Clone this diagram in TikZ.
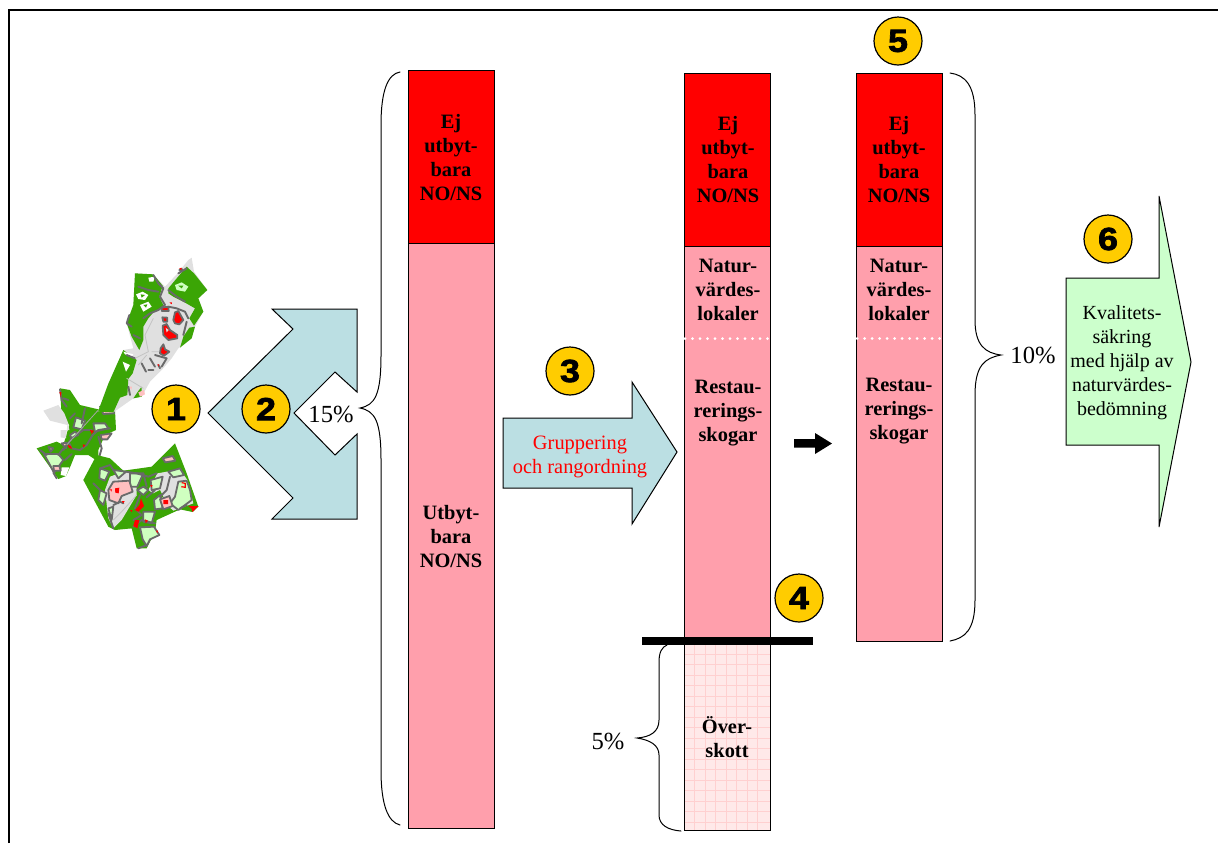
\documentclass[tikz,border=0pt]{standalone}
\usepackage{fontspec}
\setmainfont{Liberation Serif}
\newfontfamily\numfont[FakeBold=2.2,FakeStretch=1.12]{Liberation Sans Bold}
\definecolor{barred}{HTML}{FF0000}
\definecolor{barpink}{HTML}{FF9FAC}
\definecolor{arrowblue}{HTML}{BBDFE3}
\definecolor{arrowgreen}{HTML}{CCFFCC}
\definecolor{badge}{HTML}{FFCC00}
\definecolor{mapgreen}{HTML}{3BA505}
\definecolor{mapgrey}{HTML}{E0E0E0}
\definecolor{mapdark}{HTML}{6A6A6A}
\definecolor{mappink}{HTML}{FFC0C0}
\definecolor{maplight}{HTML}{CFFFC0}
\definecolor{excess}{HTML}{FFE9E9}
\definecolor{excessgrid}{HTML}{FFD0D0}
\tikzset{
  barbox/.style={draw=black,line width=0.5pt},
  barlabel/.style={font=\fontsize{10.2}{12}\selectfont\bfseries,align=center,inner sep=0pt},
  badgenode/.style={circle,draw=black,line width=0.6pt,fill=badge,minimum size=24pt,inner sep=0pt,font=\fontsize{16}{16}\selectfont\numfont},
  bracket/.style={draw=black,line width=0.5pt,line cap=round},
  percent/.style={font=\fontsize{12.3}{14}\selectfont,inner sep=0pt},
  blockarrow/.style={draw=black,line width=0.5pt},
  mapline/.style={draw=mapdark,line width=0.95pt,line join=round,line cap=round,fill=none},
  patchd/.style={draw=mapdark,line width=0.9pt,line join=round},
  dotsep/.style={white,line width=1.5pt,line cap=round,dash pattern=on 0pt off 3.75pt},
  cropmap/.style={x=0.16667pt,y=-0.16667pt},
}
\begin{document}
\begin{tikzpicture}[x=0.5pt,y=-0.5pt]
\useasboundingbox (0,0) rectangle (1218,843);
% frame
\draw[line width=1pt] (9,843) -- (9,9.5) -- (1218,9.5);

% map, middle part
\begin{scope}[shift={(30,380)},cropmap]
 \fill[mapgreen] (90,25) -- (120,30) -- (150,75) -- (205,88) -- (255,90) -- (258,150) -- (225,165) -- (205,210) -- (205,245) -- (175,225) -- (135,225) -- (120,262) -- (108,288) -- (85,297) -- (20,205) -- (80,185) -- (100,195) -- (118,135) -- (95,110) -- cycle;
 \fill[mapgrey] (40,92) -- (85,75) -- (103,100) -- (115,130) -- (118,150) -- (92,150) -- (92,172) -- (108,175) -- (112,135) -- (60,122) -- cycle;
 \fill[white] (95,262) -- (118,262) -- (108,288) -- (92,285) -- cycle;
 \filldraw[patchd,fill=maplight] (138,112) -- (165,122) -- (155,148) -- (130,142) -- cycle;
 \filldraw[patchd,fill=maplight] (190,130) -- (225,130) -- (235,145) -- (195,155) -- cycle;
 \filldraw[patchd,fill=maplight] (42,222) -- (85,222) -- (100,240) -- (72,278) -- (60,255) -- cycle;
 \filldraw[patchd,fill=maplight] (120,165) -- (135,155) -- (145,165) -- (125,175) -- cycle;
 \filldraw[patchd,fill=mappink] (210,80) -- (245,78) -- (252,100) -- (220,102) -- cycle;
 \filldraw[patchd,fill=mappink] (212,165) -- (245,160) -- (232,178) -- (215,178) -- cycle;
 \filldraw[patchd,fill=mappink] (70,258) -- (88,258) -- (92,272) -- (72,272) -- cycle;
 \filldraw[patchd,fill=mappink] (55,200) -- (70,205) -- (62,215) -- cycle;
 \filldraw[patchd,fill=mappink] (95,190) -- (110,188) -- (108,205) -- cycle;
 \draw[mapline] (118,190) -- (125,205) -- (150,210) -- (170,195) -- (188,165) -- (205,150) -- (240,145);
 \draw[mapline] (100,210) -- (125,175) -- (160,150) -- (185,150);
 \draw[mapline] (90,28) -- (95,60) -- (110,80) (100,55) -- (115,60) (205,170) -- (215,205) -- (205,240) (165,85) -- (155,130) (30,210) -- (50,225) (100,205) -- (85,225) (120,115) -- (135,100) (105,240) -- (125,222) (70,278) -- (80,295);
 \draw[draw=mapdark!60,line width=0.4pt] (110,195) -- (205,90);
 \fill[barred] (88,36) -- (94,36) -- (93,52) -- cycle (113,195) -- (123,198) -- (126,206) -- (117,204) -- cycle (158,193) -- (166,195) -- (160,202) -- cycle (180,150) -- (192,152) -- (185,162) -- cycle (235,85) -- (241,85) -- (240,92) -- cycle (246,285) -- (252,285) -- (250,292) -- cycle;
\end{scope}

% map, lower part
\begin{scope}[shift={(80,440)},cropmap]
 \fill[mapgreen] (285,10) -- (320,100) -- (355,200) -- (338,216) -- (300,208) -- (230,240) -- (225,275) -- (200,325) -- (170,325) -- (155,265) -- (105,270) -- (85,260) -- (10,120) -- (50,45) -- (90,55) -- (130,92) -- (215,80) -- cycle;
 \fill[mapgrey] (232,100) -- (300,88) -- (322,120) -- (340,190) -- (280,212) -- (240,175) -- (205,150) -- cycle;
 \fill[mapgrey] (130,95) -- (170,100) -- (170,165) -- (125,240) -- (100,265) -- (85,235) -- (75,150) -- (90,110) -- cycle;
 \fill[mapgreen] (135,235) -- (170,215) -- (165,250) -- (155,265) -- (125,262) -- cycle;
 \fill[mapgreen] (200,170) -- (240,150) -- (250,170) -- (225,185) -- cycle;
 \filldraw[patchd,fill=maplight] (60,85) -- (88,95) -- (75,122) -- (58,115) -- cycle;
 \filldraw[patchd,fill=maplight] (100,90) -- (138,95) -- (115,115) -- cycle;
 \filldraw[patchd,fill=maplight] (150,100) -- (190,100) -- (172,140) -- (150,140) -- cycle;
 \filldraw[patchd,fill=maplight] (295,125) -- (320,122) -- (330,150) -- (335,180) -- (295,210) -- (270,190) -- (285,170) -- cycle;
 \filldraw[patchd,fill=maplight] (212,120) -- (248,110) -- (240,145) -- (215,150) -- cycle;
 \filldraw[patchd,fill=maplight] (265,95) -- (300,85) -- (312,105) -- (280,112) -- cycle;
 \filldraw[patchd,fill=maplight] (240,165) -- (248,205) -- (225,208) -- (222,180) -- cycle;
 \filldraw[patchd,fill=maplight] (180,262) -- (222,260) -- (238,285) -- (210,298) -- (200,318) -- (188,298) -- cycle;
 \filldraw[patchd,fill=maplight] (172,150) -- (190,140) -- (205,150) -- (190,165) -- cycle;
 \filldraw[patchd,fill=maplight] (60,150) -- (80,160) -- (70,195) -- (55,180) -- cycle;
 \filldraw[patchd,fill=maplight] (190,215) -- (225,215) -- (215,250) -- (190,245) -- cycle;
 \filldraw[patchd,fill=maplight] (85,205) -- (100,200) -- (95,240) -- cycle;
 \filldraw[patchd,fill=mappink] (100,125) -- (148,122) -- (158,155) -- (125,168) -- (115,190) -- (88,180) -- (85,150) -- cycle;
 \filldraw[patchd,fill=mappink] (240,178) -- (268,168) -- (278,198) -- (250,208) -- cycle;
 \filldraw[patchd,fill=mappink] (248,55) -- (278,48) -- (286,62) -- (256,67) -- cycle;
 \draw[mapline] (60,85) -- (90,75) -- (100,90) (138,95) -- (170,100) -- (205,110) -- (230,100) (180,165) -- (165,205) -- (185,225) -- (160,240) (85,220) -- (100,265) (225,150) -- (200,172) (190,100) -- (200,140) (100,195) -- (120,185) -- (130,190) (270,110) -- (260,150) -- (240,170) (300,205) -- (320,195);
 \draw[mapline] (40,130) -- (60,150) (160,260) -- (185,240) -- (225,250) (175,325) -- (200,315);
 \draw[draw=mapdark!40,line width=0.4pt] (170,165) -- (125,215) -- (100,240);
 \fill[barred] (165,210) -- (178,195) -- (183,175) -- (192,198) -- (175,215) -- cycle (165,240) -- (178,240) -- (172,265) -- (160,258) -- cycle (195,238) -- (204,242) -- (197,250) -- cycle (250,180) -- (264,180) -- (264,192) -- (250,192) -- cycle (105,145) -- (118,143) -- (116,160) -- (106,158) -- cycle (325,198) -- (356,198) -- (345,208) -- (338,216) -- (334,205) -- cycle (90,148) -- (96,148) -- (94,155) -- cycle (125,183) -- (134,183) -- (130,190) -- cycle (228,272) -- (234,272) -- (232,280) -- cycle (150,210) -- (157,210) -- (155,216) -- cycle (210,135) -- (218,135) -- (215,142) -- cycle;
 \draw[barred,line width=0.6pt] (305,128) -- (316,130) -- (316,142) -- (304,140);
\end{scope}

% map, upper part
\begin{scope}[shift={(120,255)},cropmap]
 \fill[mapgrey] (45,55) -- (100,58) -- (135,95) -- (170,58) -- (205,15) -- (215,8) -- (222,50) -- (262,105) -- (235,130) -- (250,170) -- (225,215) -- (215,250) -- (175,280) -- (155,310) -- (125,345) -- (90,380) -- (65,425) -- (40,430) -- (-20,472) -- (-66,470) -- (-35,386) -- (10,285) -- (40,280) -- (20,205) -- (40,150) -- cycle;
 \fill[mapgreen] (45,55) -- (100,58) -- (128,92) -- (118,125) -- (132,155) -- (100,172) -- (85,190) -- (70,215) -- (70,255) -- (58,285) -- (35,245) -- (20,205) -- (40,150) -- cycle;
 \fill[mapgreen] (145,100) -- (170,70) -- (200,35) -- (222,55) -- (262,105) -- (235,130) -- (250,170) -- (222,212) -- (208,190) -- (225,160) -- (190,140) -- (160,125) -- (145,115) -- cycle;
 \fill[mapgreen] (225,215) -- (215,250) -- (180,278) -- (190,245) -- (208,218) -- cycle;
 \fill[mapgreen] (10,285) -- (50,315) -- (38,355) -- (25,372) -- (22,420) -- (0,428) -- (-20,472) -- (-66,470) -- (-35,386) -- cycle;
 \fill[mapgreen] (65,395) -- (65,425) -- (40,430) -- (55,408) -- cycle;
 \fill[white] (48,118) -- (68,110) -- (85,120) -- (75,135) -- (55,132) -- cycle (85,68) -- (105,65) -- (100,80) -- (88,80) -- cycle (60,150) -- (85,140) -- (95,155) -- (70,170) -- cycle (8,320) -- (30,330) -- (18,350) -- cycle (10,290) -- (40,298) -- (35,305) -- (15,298) -- cycle;
 \fill[mapgreen] (62,118) -- (75,120) -- (65,128) -- cycle (70,150) -- (82,148) -- (78,158) -- cycle;
 \fill[maplight] (165,90) -- (185,82) -- (205,95) -- (195,110) -- (170,105) -- cycle;
 \fill[mapgreen] (175,92) -- (190,92) -- (185,100) -- cycle;
 \fill[mappink] (55,412) -- (72,405) -- (75,418) -- (60,425) -- cycle (28,395) -- (36,395) -- (34,405) -- cycle;
 \draw[mapline] (100,60) -- (115,85) -- (130,100) -- (120,125) -- (135,150) -- (115,165) -- (90,175) -- (70,190);
 \draw[mapline] (55,95) -- (85,105) -- (115,110) (145,105) -- (170,125) -- (195,140) (200,40) -- (175,55) (178,45) -- (186,42) (145,155) -- (170,160) -- (195,170) -- (205,190) (28,180) -- (20,205) -- (35,215) (40,240) -- (60,250) (200,200) -- (190,240);
 \draw[mapline] (65,325) -- (78,350) (90,310) -- (105,335) (105,300) -- (140,310) -- (125,335) (115,330) -- (120,340) (85,345) -- (100,345) (25,395) -- (30,420) (20,300) -- (45,310);
 \draw[draw=mapdark!40,line width=0.4pt] (100,190) -- (75,240) -- (85,290) -- (45,310) (20,370) -- (70,400) (55,330) -- (80,300) (130,290) -- (95,290);
 \filldraw[patchd,fill=barred] (128,212) -- (140,207) -- (150,225) -- (172,240) -- (172,250) -- (145,255) -- (130,240) -- cycle;
 \fill[mapgrey] (137,218) -- (146,225) -- (140,232) -- cycle;
 \filldraw[patchd,fill=barred] (165,172) -- (175,168) -- (190,195) -- (178,208) -- (165,205) -- (160,195) -- cycle;
 \filldraw[patchd,fill=barred] (125,158) -- (145,155) -- (146,168) -- (125,168) -- cycle;
 \filldraw[patchd,fill=barred] (127,187) -- (142,188) -- (142,200) -- (130,200) -- cycle;
 \filldraw[patchd,fill=barred] (122,280) -- (130,268) -- (135,283) -- (148,290) -- (132,302) -- (120,295) -- cycle;
 \fill[barred] (178,40) -- (185,38) -- (184,46) -- cycle (148,142) -- (156,142) -- (155,148) -- cycle (112,328) -- (118,328) -- (116,334) -- cycle;
\end{scope}

% double arrow 2
\filldraw[blockarrow,fill=arrowblue] (208,413) -- (293,329) -- (272,309) -- (357,309) -- (357,392) -- (335,372) -- (294,413) -- (335,455) -- (357,434) -- (357,519) -- (272,519) -- (293,498) -- cycle;
% arrow 3
\filldraw[blockarrow,fill=arrowblue] (503,418) -- (632,418) -- (632,382) -- (677,452) -- (632,524) -- (632,488) -- (503,488) -- cycle;
% arrow 6
\filldraw[blockarrow,fill=arrowgreen] (1066,278) -- (1159,278) -- (1159,196) -- (1191,362) -- (1159,527) -- (1159,445) -- (1066,445) -- cycle;
% small arrow
\fill[black] (794,439) -- (815,439) -- (815,433) -- (832,443.5) -- (815,454) -- (815,447.5) -- (794,447.5) -- cycle;

% bar 1
\filldraw[barbox,fill=barred] (408.5,70) rectangle (494,243);
\filldraw[barbox,fill=barpink] (408.5,243) rectangle (494,828);
% bar 2
\filldraw[barbox,fill=barred] (684.5,73) rectangle (770,246);
\filldraw[barbox,fill=barpink] (684.5,246) rectangle (770,640);
\fill[excess] (684.5,640) rectangle (770,830);
\foreach \gx in {694.5,705,715.5,726,736.5,747,757.5}
  \draw[excessgrid,line width=0.3pt] (\gx,644) -- (\gx,830);
\foreach \gy in {654,664.5,675,685.5,696,706.5,717,727.5,738,748.5,759,769.5,780,790.5,801,811.5,822}
  \draw[excessgrid,line width=0.3pt] (684.5,\gy) -- (770,\gy);
\draw[barbox] (684.5,640) rectangle (770,830);
% bar 3
\filldraw[barbox,fill=barred] (856.5,73) rectangle (942,246);
\filldraw[barbox,fill=barpink] (856.5,246) rectangle (942,641);
% dotted separators
\draw[dotsep] (685,338.5) -- (770,338.5);
\draw[dotsep] (857,338.5) -- (942,338.5);
% cut line
\fill[black] (642,636.5) rectangle (813,644.5);

% bar labels
\node[barlabel] (ejA) at (451,158) {Ej\\utbyt-\\bara\\NO/NS};
\node[barlabel] (utb) at (451,537) {Utbyt-\\bara\\NO/NS};
\node[barlabel] (ejB) at (728,160) {Ej\\utbyt-\\bara\\NO/NS};
\node[barlabel] (natB) at (728,290) {Natur-\\värdes-\\lokaler};
\node[barlabel] (resB) at (728,413) {Restau-\\rerings-\\skogar};
\node[barlabel] (over) at (727,737) {Över-\\skott};
\node[barlabel] (ejC) at (899,160) {Ej\\utbyt-\\bara\\NO/NS};
\node[barlabel] (natC) at (899,290) {Natur-\\värdes-\\lokaler};
\node[barlabel] (resC) at (899,411) {Restau-\\rerings-\\skogar};

% arrow texts
\node[font=\fontsize{10.2}{12}\selectfont,align=center,text=barred,inner sep=0pt] (grp) at (580,457) {Gruppering\\och rangordning};
\node[font=\fontsize{10}{12}\selectfont,align=center,inner sep=0pt] (kval) at (1122,363) {Kvalitets-\\säkring\\med hjälp av\\naturvärdes-\\bedömning};

% braces
\draw[bracket] (400,72) .. controls (388,74) and (381,90) .. (381,125) -- (381,355) .. controls (381,395) and (375,405) .. (360,408) .. controls (375,411) and (381,421) .. (381,460) -- (381,770) .. controls (381,805) and (388,822) .. (400,825);
\draw[bracket] (950,73) .. controls (965,75) and (975,85) .. (975,115) -- (975,320) .. controls (975,345) and (985,353) .. (1001,355) .. controls (985,358) and (975,365) .. (975,395) -- (975,600) .. controls (975,630) and (965,638) .. (950,641);
\draw[bracket] (667,645) .. controls (662,647) and (659,652) .. (659,662) -- (659,720) .. controls (659,732) and (650,737) .. (637,738) .. controls (650,740) and (659,745) .. (659,755) -- (659,815) .. controls (659,825) and (668,830) .. (681,831);

% percent labels
\node[percent] (pA) at (331,414) {15\%};
\node[percent] (pB) at (1033,355) {10\%};
\node[percent] (pC) at (608,741) {5\%};

% badges
\node[badgenode] (b1) at (176,409) {1};
\node[badgenode] (b2) at (266,409) {2};
\node[badgenode] (b3) at (570,371) {3};
\node[badgenode] (b4) at (799,598) {4};
\node[badgenode] (b5) at (898,41) {5};
\node[badgenode] (b6) at (1108,239) {6};
\end{tikzpicture}
\end{document}
